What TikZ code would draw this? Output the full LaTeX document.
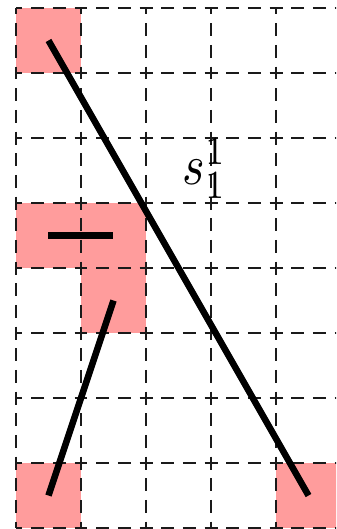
\documentclass[tikz,border=0pt]{standalone}
\usepackage{xcolor}
\usepackage{tikz}
\usetikzlibrary{positioning,calc}
\usepackage{amsmath}
\definecolor{hitbg}{HTML}{FF9C9C}
\definecolor{gridln}{HTML}{1A1A1A}

\begin{document}
\begin{tikzpicture}[x=65pt,y=-65pt,
  celledge/.style={draw=gridln,line width=1.5pt,dash pattern=on 13pt off 8.67pt,dash phase=6.5pt},
  hitcell/.style={fill=hitbg},
  segline/.style={line width=6.5pt,black}]
\path[use as bounding box] (-0.246,-0.123) rectangle (4.923,8.015);
\clip (-0.246,-0.123) rectangle (4.923,8.015);
\foreach \i/\j in {0/0,0/3,1/3,1/4,0/7,4/7}
  \fill[hitcell] (\i,\j) rectangle ++(1,1);
\foreach \i in {0,...,4}
  \foreach \j in {0,...,8}
    \draw[celledge] (\i,\j) -- ++(1,0);
\foreach \i in {0,...,5}
  \foreach \j in {0,...,7}
    \draw[celledge] (\i,\j) -- ++(0,1);
\coordinate (topleft) at (0.5,0.5);
\coordinate (botright) at (4.5,7.5);
\coordinate (midleft) at (0.5,3.5);
\coordinate (midright) at (1.5,3.5);
\coordinate (lowtop) at (1.5,4.5);
\coordinate (lowbot) at (0.5,7.5);
\draw[segline] (topleft) -- (botright);
\draw[segline] (midleft) -- (midright);
\draw[segline] (lowbot) -- (lowtop);
\node[anchor=base west,inner sep=0pt,xscale=4.8,yscale=5.7] (lbl) at (2.55,2.72) {$s_1^1$};
\end{tikzpicture}
\end{document}
